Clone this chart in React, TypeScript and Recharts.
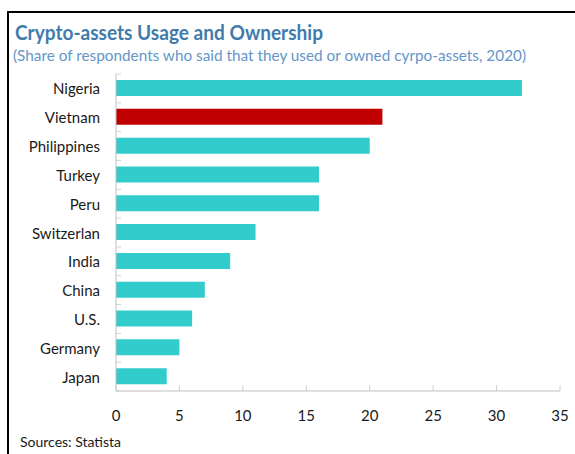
import { Bar, BarChart, Cell, XAxis, YAxis } from 'recharts';

const countries = [
	'Nigeria',
	'Vietnam',
	'Philippines',
	'Turkey',
	'Peru',
	'Switzerlan',
	'India',
	'China',
	'U.S.',
	'Germany',
	'Japan',
];
const shares = [32, 21, 20, 16, 16, 11, 9, 7, 6, 5, 4];
const highlight = 'Vietnam';
const xTicks = [0, 5, 10, 15, 20, 25, 30, 35];

const title = 'Crypto-assets Usage and Ownership';
const subtitle = '(Share of respondents who said that they used or owned cyrpo-assets, 2020)';
const source = 'Sources: Statista';

const W = 575;
const H = 454;
const PLOT_TOP = 74;
const PLOT_LEFT = 116;
const PLOT_BOTTOM = 391;
const PLOT_RIGHT = 560;
const BAND = (PLOT_BOTTOM - PLOT_TOP) / countries.length;

const FONT = 'Lato, "Open Sans", sans-serif';

const data = countries.map((name, i) => ({ name, value: shares[i] }));

const XTick = (props: any) => {
	const { x, y, payload } = props;
	return (
		<g>
			<line x1={x} x2={x} y1={y} y2={y - 6} stroke="#d0d0d0" />
			<text x={x} y={y + 30} textAnchor="middle" fontSize={15} fill="#1a1a1a" fontFamily={FONT}>
				{payload.value}
			</text>
		</g>
	);
};

const YTick = (props: any) => {
	const { x, y, payload, index } = props;
	return (
		<g>
			<line x1={x} x2={x + 5} y1={y - BAND / 2} y2={y - BAND / 2} stroke="#d0d0d0" />
			{index === countries.length - 1 && (
				<line x1={x} x2={x + 5} y1={y + BAND / 2} y2={y + BAND / 2} stroke="#d0d0d0" />
			)}
			<text x={x - 16} y={y + 6} textAnchor="end" fontSize={15} fill="#1a1a1a" fontFamily={FONT}>
				{payload.value}
			</text>
		</g>
	);
};

export default function App() {
	return (
		<div style={{ position: 'absolute', left: 0, top: 0, width: W, height: H, background: '#fff' }}>
			<div
				style={{
					position: 'absolute',
					left: 7,
					top: 11,
					width: W - 7,
					height: H - 11,
					borderTop: '2px solid #000',
					borderLeft: '2px solid #000',
					boxSizing: 'border-box',
				}}
			/>
			<svg width={W} height={70} style={{ position: 'absolute', left: 0, top: 0 }}>
				<text
					x={15}
					y={40}
					fontSize={20}
					fontWeight="bold"
					fill="#3f7cac"
					fontFamily={FONT}
					textLength={308}
					lengthAdjust="spacingAndGlyphs"
				>
					{title}
				</text>
				<text
					x={13}
					y={61}
					fontSize={16}
					fill="#6596c8"
					fontFamily={FONT}
					textLength={513}
					lengthAdjust="spacingAndGlyphs"
				>
					{subtitle}
				</text>
			</svg>
			<div style={{ position: 'absolute', left: 0, top: 0 }}>
				<BarChart
					width={W}
					height={H}
					data={data}
					layout="vertical"
					margin={{ top: PLOT_TOP, right: W - PLOT_RIGHT, bottom: 0, left: 0 }}
				>
					<XAxis
						type="number"
						domain={[0, 35]}
						ticks={xTicks}
						interval={0}
						height={H - PLOT_BOTTOM}
						axisLine={{ stroke: '#bfbfbf' }}
						tickLine={false}
						tickSize={0}
						tickMargin={0}
						tick={<XTick />}
					/>
					<YAxis
						type="category"
						dataKey="name"
						width={PLOT_LEFT}
						interval={0}
						axisLine={{ stroke: '#bfbfbf' }}
						tickLine={false}
						tickSize={0}
						tickMargin={0}
						tick={<YTick />}
					/>
					<Bar dataKey="value" barSize={16} isAnimationActive={false}>
						{data.map((d) => (
							<Cell key={d.name} fill={d.name === highlight ? '#c00000' : '#33cccc'} />
						))}
					</Bar>
				</BarChart>
			</div>
			<div
				style={{
					position: 'absolute',
					left: 20,
					top: 432,
					fontSize: 14,
					fontFamily: FONT,
					color: '#1a1a1a',
					lineHeight: '20px',
					whiteSpace: 'nowrap',
				}}
			>
				{source}
			</div>
		</div>
	);
}
